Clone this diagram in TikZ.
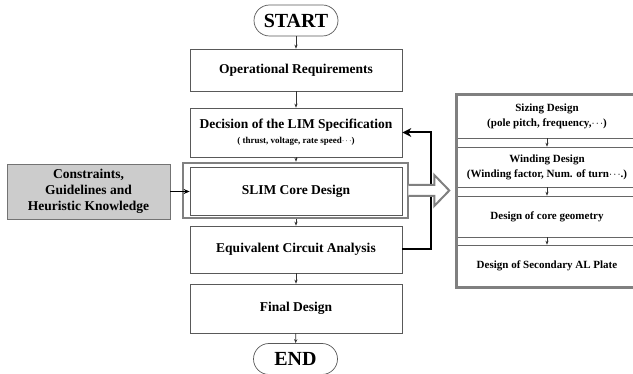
\documentclass[tikz,border=0pt]{standalone}
\usepackage{fontspec}
\setmainfont{Liberation Serif}
\usetikzlibrary{arrows.meta}
\newcommand{\mydots}{\ensuremath{\cdot\mkern-2mu\cdot\mkern-2mu\cdot}}
\begin{document}
\begin{tikzpicture}[x=1pt,y=-1pt,
  box/.style={draw=black!65, line width=0.7pt, fill=white, minimum width=212pt, align=center, inner sep=0pt,
    font=\bfseries\fontsize{13.5}{17}\selectfont},
  pill/.style={draw=black!65, line width=0.7pt, fill=white, rounded corners=15.5pt, minimum width=84pt, minimum height=31pt,
    inner sep=0pt, font=\bfseries\fontsize{20}{22}\selectfont},
  pbox/.style={draw=black!60, line width=0.6pt, minimum width=180pt, align=center, inner sep=0pt,
    font=\bfseries\fontsize{11}{15}\selectfont},
  sarrow/.style={-{Stealth[length=4pt,width=3.2pt]}, line width=0.6pt, black!80},
  barrow/.style={-{Stealth[length=9pt,width=9pt]}, line width=2pt},
  gframe/.style={draw=black!50, line width=2.6pt}
]
\useasboundingbox (0,0) rectangle (633,374);

% main column
\node[pill] (start) at (296,20.5) {START};
\node[box, minimum height=42pt] (op) at (296,70) {Operational Requirements};
\node[box, minimum height=49pt] (dec) at (296,132.5) {Decision of the LIM Specification\\[-2pt]{\fontsize{9}{11}\selectfont ( thrust, voltage, rate speed\mydots)}};
\node[gframe, minimum width=225pt, minimum height=55pt, inner sep=0pt] (frame) at (295.5,190.5) {};
\node[box, minimum height=48pt] (slim) at (296,191) {SLIM Core Design};
\node[box, minimum height=47pt] (eq) at (296,249.5) {Equivalent Circuit Analysis};
\node[box, minimum height=49pt] (fin) at (296,308.5) {Final Design};
\node[pill] (end) at (295.5,359) {END};

\draw[sarrow] (start) -- (op);
\draw[sarrow] (op) -- (dec);
\draw[sarrow] (dec.south) -- (dec.south |- frame.north);
\draw[sarrow] (eq.north |- frame.south) -- (eq.north);
\draw[sarrow] (eq) -- (fin);
\draw[sarrow] (fin) -- (end);

% feedback
\draw[barrow] (eq.east) -- ++(29,0) |- (dec.east);

% constraints
\node[draw=black!55, line width=0.8pt, fill=black!20, minimum width=163pt, minimum height=55pt, align=center, inner sep=0pt,
  font=\bfseries\fontsize{13.5}{16}\selectfont] (con) at (88.5,191.5) {Constraints,\\Guidelines and\\Heuristic Knowledge};
\draw[-{Stealth[length=6pt,width=5pt]}, line width=1pt] (con.east) -- (con.east -| slim.west);

% block arrow
\coordinate (ba) at (frame.east);
\draw[draw=black!50, fill=white, line width=2pt, line join=miter]
  (ba) ++(-1,-5.5) -- ++(26,0) -- ++(0,-10) -- ++(15,15.5) -- ++(-15,15.5) -- ++(0,-10) -- ++(-26,0);

% right panel
\node[pbox, minimum height=43pt] (sz) at (547,116.5) {Sizing Design\\(pole pitch, frequency,\mydots)};
\node[pbox, minimum height=40pt] (wd) at (547,167) {Winding Design\\(Winding factor, Num. of turn\mydots.)};
\node[pbox, minimum height=41pt] (cg) at (547,216.5) {Design of core geometry};
\node[pbox, minimum height=42pt] (sa) at (547,266) {Design of Secondary AL Plate};
\draw[sarrow] (sz) -- (wd);
\draw[sarrow] (wd) -- (cg);
\draw[sarrow] (cg) -- (sa);
\draw[gframe] (sz.north west) rectangle (sa.south east);
\end{tikzpicture}
\end{document}
